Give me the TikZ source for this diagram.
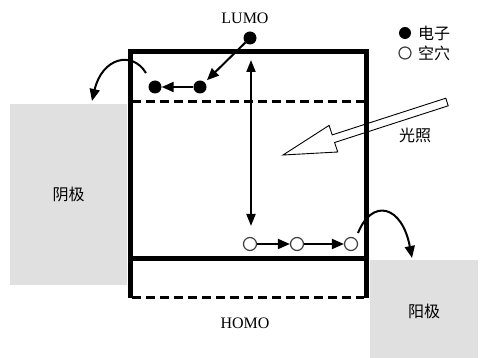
\documentclass[tikz,border=0pt]{standalone}
\usepackage{fontspec}
\setmainfont{Liberation Serif}
\newfontfamily\cjk{Noto Sans CJK SC}
\usetikzlibrary{arrows.meta}
\begin{document}
\begin{tikzpicture}[x=1pt,y=-1pt,
  frame/.style={line width=5pt},
  lvl/.style={line width=3pt, dash pattern=on 9pt off 5pt},
  electrode/.style={fill=black!12, draw=none, inner sep=0pt},
  elec/.style={circle, fill=black, inner sep=0pt, minimum size=13pt},
  hole/.style={circle, draw=black!75, fill=white, line width=1.2pt, inner sep=0pt, minimum size=13pt},
  arr/.style={-{Triangle[length=12pt,width=10pt]}, line width=2pt},
  darr/.style={{Triangle[length=12pt,width=9pt]}-{Triangle[length=12pt,width=9pt]}, line width=1.8pt},
  lbl/.style={font=\fontsize{16}{16}\selectfont, inner sep=0pt},
  clbl/.style={font=\cjk\fontsize{16}{16}\selectfont, inner sep=0pt}
]
\useasboundingbox (0,0) rectangle (480,358);
\fill[white] (0,0) rectangle (480,358);
% electrodes
\node[electrode, minimum width=117pt, minimum height=181pt, anchor=north west] (cath) at (10,104) {};
\node[clbl] at (cath.center) {阴极};
\node[electrode, minimum width=108pt, minimum height=98pt, anchor=north west] (anod) at (370,260) {};
\node[clbl] at ([yshift=-2pt]anod.center) {阳极};
% light arrow
\draw[fill=white, line width=0.9pt, line join=miter]
  (283,155) -- (337.7,152.0) -- (334.6,142.5) -- (448.2,105.8)
  -- (445.8,98.2) -- (332.2,134.9) -- (329.1,125.4) -- cycle;
\node[clbl] (light) at (415,135) {光照};
% frame and levels
\draw[frame] (130,298) -- (130,52) -- (366,52) -- (366,298);
\draw[lvl] (132,102) -- (364,102);
\draw[frame] (130,259) -- (366,259);
\draw[lvl] (132,298) -- (364,298);
% labels
\node[lbl] (lumo) at (245,18) {LUMO};
\node[lbl] (homo) at (245,323) {HOMO};
% electrons
\node[elec] (e0) at (250,38) {};
\node[elec] (e1) at (200,87) {};
\node[elec] (e2) at (155,87) {};
\draw[arr, shorten >=3pt] (e0) -- (e1);
\draw[arr] (e1) -- (e2);
% transition arrow
\coordinate (vt) at (251,60);
\coordinate (vb) at (251,226);
\draw[darr] (vt) -- (vb);
% holes
\node[hole] (h1) at (250,244) {};
\node[hole] (h2) at (297,244) {};
\node[hole] (h3) at (351,244) {};
\draw[arr] (h1) -- (h2);
\draw[arr] (h2) -- (h3);
% extraction arrows
\coordinate (ls) at (146,73);
\coordinate (le) at (92,101);
\draw[arr] (ls) .. controls (132,50) and (102,58) .. (le);
\coordinate (rs) at (358,233);
\coordinate (re) at (412,258);
\draw[arr] (rs) .. controls (372,198) and (402,205) .. (re);
% legend
\node[elec, minimum size=12pt] (le1) at (405,33) {};
\node[clbl, anchor=west] at (418,33) {电子};
\node[hole, minimum size=12pt] (lh1) at (405,53) {};
\node[clbl, anchor=west] at (418,53) {空穴};
\end{tikzpicture}
\end{document}
